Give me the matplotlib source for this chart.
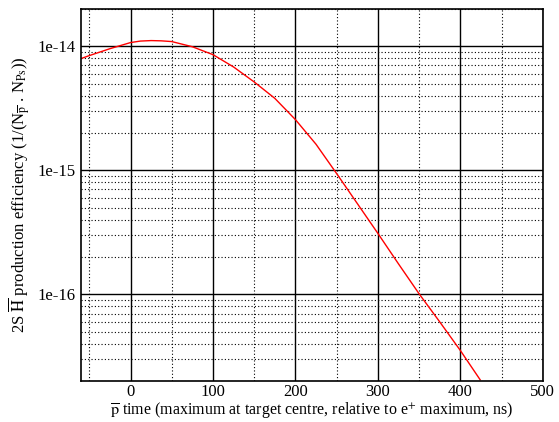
import matplotlib
matplotlib.use("Agg")
import matplotlib.pyplot as plt
from matplotlib.ticker import LogLocator, NullFormatter, FixedLocator
import numpy as np

# valores (cada 25 ns)
t_ns = [-60, -50, -25, 0, 12, 25, 37, 50, 75, 100, 125, 150, 175, 200, 225, 250,
        275, 300, 325, 350, 375, 400, 424]
eficiencia = [7.95e-15, 8.4e-15, 9.55e-15, 1.07e-14, 1.10e-14, 1.11e-14, 1.105e-14, 1.09e-14,
              9.9e-15, 8.55e-15, 6.8e-15, 5.15e-15, 3.8e-15, 2.56e-15, 1.62e-15, 9.4e-16,
              5.4e-16, 3.1e-16, 1.76e-16, 1.01e-16, 6.0e-17, 3.53e-17, 2.05e-17]

yticks = [1e-16, 1e-15, 1e-14]
yticklabels = ["1e-16", "1e-15", "1e-14"]
xticks = [0, 100, 200, 300, 400, 500]
xminor = [-50, 50, 150, 250, 350, 450]

plt.rcParams["font.family"] = ["Liberation Serif", "DejaVu Serif"]
plt.rcParams["mathtext.fontset"] = "stix"

fig = plt.figure(figsize=(5.59, 4.22), dpi=100)
ax = fig.add_axes([0.145, 0.097, 0.826, 0.882])

ax.plot(t_ns, eficiencia, color="red", lw=1.0)

ax.set_yscale("log")
ax.set_xlim(-60, 500)
ax.set_ylim(2e-17, 2e-14)

ax.xaxis.set_major_locator(FixedLocator(xticks))
ax.xaxis.set_minor_locator(FixedLocator(xminor))
ax.set_yticks(yticks)
ax.set_yticklabels(yticklabels)
ax.yaxis.set_minor_locator(LogLocator(base=10, subs=np.arange(2, 10)))
ax.yaxis.set_minor_formatter(NullFormatter())

ax.grid(which="major", color="black", lw=1.0, ls="-")
ax.grid(which="minor", color="black", lw=0.8, ls=(0, (1, 2)))
ax.tick_params(which="both", direction="in", labelsize=12, length=0)
ax.tick_params(axis="x", pad=2)
ax.tick_params(axis="y", pad=4)
for s in ax.spines.values():
    s.set_linewidth(1.2)

ax.set_xlabel(r"$\overline{\rm p}$ time (maximum at target centre, relative to e$^{+}$ maximum, ns)",
              fontsize=11.5, labelpad=0)
ax.set_ylabel(r"2S $\overline{\rm H}$ production efficiency (1/(N$_{\overline{\rm p}}$ . N$_{\rm Ps}$))",
              fontsize=12, labelpad=4)

fig.savefig("out.png", dpi=100)
